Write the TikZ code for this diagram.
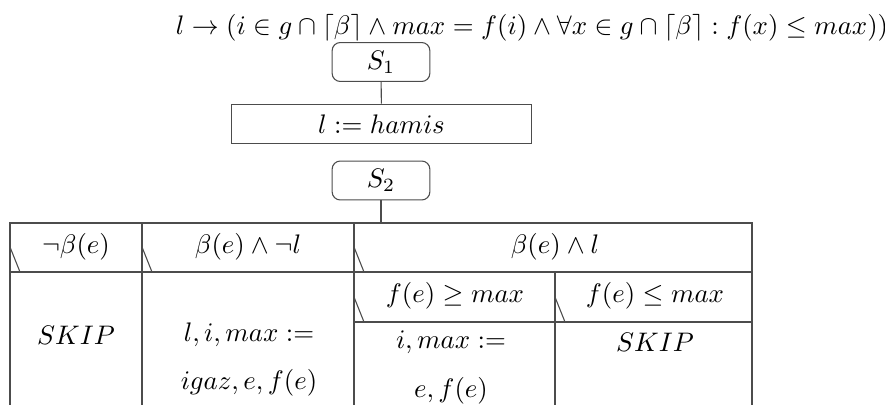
\documentclass[tikz,border=0pt]{standalone}
\usepackage{amsmath,amssymb}
\usepackage{xcolor}
\usepackage{tikz}
\usetikzlibrary{positioning}
\definecolor{rulegray}{gray}{0.3}

\begin{document}
\begin{tikzpicture}[
  x=0.0131cm,y=-0.0131cm,
  every node/.style={inner sep=0pt},
  rule/.style={draw=rulegray,line width=0.4pt},
  seq/.style={rule,rounded corners=3pt,minimum width=1.28cm,minimum height=0.51cm},
  stmt/.style={rule,minimum width=3.94cm,minimum height=0.52cm}
]
  \useasboundingbox (0,0) rectangle (885,405);

  \node (post) at (532,28) {$l \rightarrow (i \in g \cap \lceil\beta\rceil \wedge max = f(i) \wedge \forall x \in g \cap \lceil\beta\rceil : f(x) \leq max))$};

  \node[seq]  (s1)  at (381,62)  {$S_1$};
  \node[stmt] (ini) at (381.5,124) {$l := hamis$};
  \node[seq]  (s2)  at (381,180.5) {$S_2$};
  \coordinate (tab) at (381,223);

  \draw[rule] (s1) -- (ini);
  \draw[rule] (s2) -- (tab);

  % table frame
  \draw[rule] (10,405) -- (10,223) -- (752,223) -- (752,405);
  \draw[rule] (10,272) -- (752,272);
  \draw[rule] (354,322) -- (752,322);
  \draw[rule] (142,223) -- (142,405);
  \draw[rule] (354,223) -- (354,405);
  \draw[rule] (555,272) -- (555,405);

  % condition marks
  \foreach \x in {10,142,354} \draw[rule] (\x,247) -- ++(10,25);
  \foreach \x in {354,555} \draw[rule] (\x,297) -- ++(10,25);

  \node (c1) at (76,247)  {$\neg\beta(e)$};
  \node (c2) at (248,247) {$\beta(e) \wedge \neg l$};
  \node (c3) at (555,247) {$\beta(e) \wedge l$};
  \node (c31) at (455,296) {$f(e) \geq max$};
  \node (c32) at (655,296) {$f(e) \leq max$};

  \node (sk1) at (76,335)  {$SKIP$};
  \node (a1)  at (249,335) {$l, i, max :=$};
  \node (a2)  at (249,383) {$igaz, e, f(e)$};
  \node (b1)  at (451,342) {$i, max :=$};
  \node (b2)  at (451,391) {$e, f(e)$};
  \node (sk2) at (655,342) {$SKIP$};
\end{tikzpicture}
\end{document}
